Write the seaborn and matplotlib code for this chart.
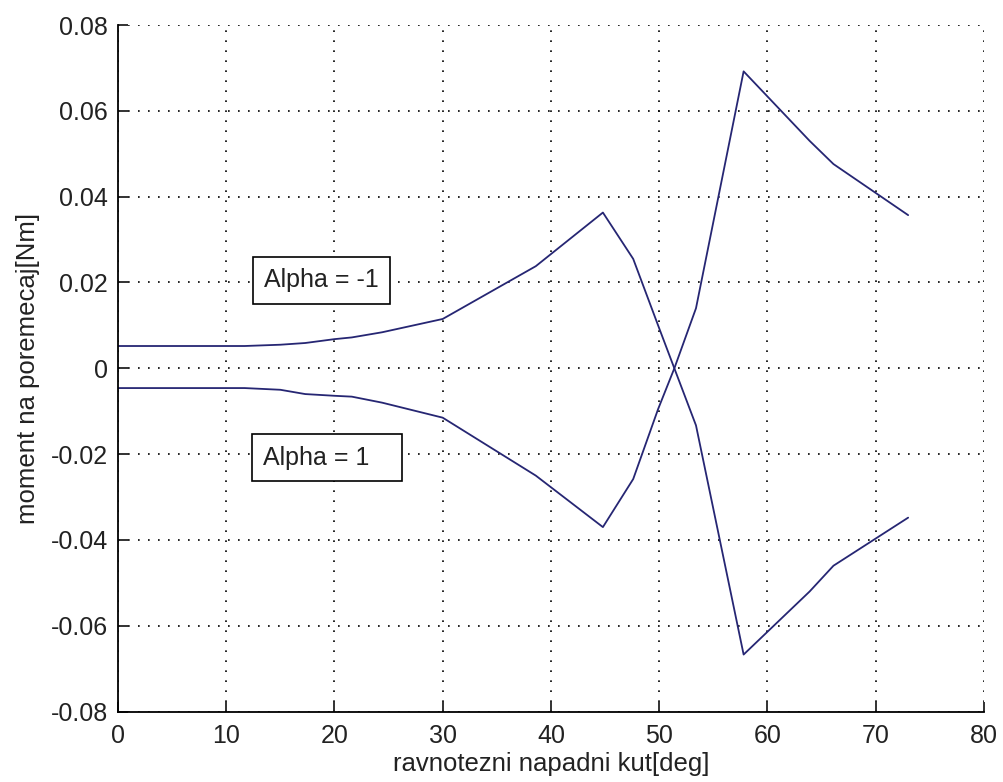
import numpy as np
import pandas as pd
import matplotlib
matplotlib.use("Agg")
import matplotlib.pyplot as plt
import seaborn as sns

# ravnotezni napadni kut [deg]
kut = [0, 11.7, 15, 17.3, 20, 21.6, 24.4, 30, 38.6, 44.8, 47.6, 49.9, 51.4, 53.4, 57.8, 63.9, 66.1, 73.0]

# moment na poremecaj [Nm]
alpha_m1 = [0.0052, 0.0052, 0.0055, 0.0059, 0.0068, 0.0072, 0.0084, 0.0115, 0.0238, 0.0363,
            0.0255, 0.0100, 0.0, -0.0133, -0.0667, -0.0520, -0.0460, -0.0348]
alpha_p1 = [-0.0046, -0.0046, -0.0050, -0.0060, -0.0064, -0.0066, -0.0080, -0.0115, -0.0250, -0.0370,
            -0.0258, -0.0095, 0.0, 0.0140, 0.0692, 0.0530, 0.0476, 0.0357]

df = pd.DataFrame({"kut": kut * 2,
                   "moment": alpha_m1 + alpha_p1,
                   "alpha": ["-1"] * len(kut) + ["1"] * len(kut)})

sns.set_style("white")
plt.rcParams["font.family"] = ["Liberation Sans", "DejaVu Sans"]

fig = plt.figure(figsize=(10.04, 7.82), dpi=100)
ax = fig.add_axes([0.1175, 0.0900, 0.8625, 0.8780])

line_col = "#262673"
sns.lineplot(data=df, x="kut", y="moment", units="alpha", estimator=None, sort=False,
             color=line_col, linewidth=1.3, ax=ax, legend=False)

ax.set_xlim(0, 80)
ax.set_ylim(-0.08, 0.08)
ax.set_xticks(np.arange(0, 81, 10))
ax.set_yticks(np.arange(-0.08, 0.081, 0.02))
ax.set_yticklabels(["-0.08", "-0.06", "-0.04", "-0.02", "0", "0.02", "0.04", "0.06", "0.08"])

# dotted grid like matlab
ax.grid(True, color="black", linestyle=(0, (1, 5)), linewidth=1.2)
for s in ["top", "right"]:
    ax.spines[s].set_visible(False)
for s in ["left", "bottom"]:
    ax.spines[s].set_color("black")
    ax.spines[s].set_linewidth(1.3)

ax.tick_params(direction="in", length=7, width=1.3, labelsize=18, colors="#222222",
               left=True, bottom=True)
ax.tick_params(axis="y", pad=7)
ax.tick_params(axis="x", pad=9)

ax.set_xlabel("ravnotezni napadni kut[deg]", fontsize=18.5, labelpad=3, color="#222222")
ax.set_ylabel("moment na poremecaj[Nm]", fontsize=18.5, labelpad=8, color="#222222")

box = dict(boxstyle="square,pad=0.45", facecolor="white", edgecolor="black", linewidth=1.2)
ax.text(13.5, 0.0205, "Alpha = -1", fontsize=18, ha="left", va="center", bbox=box, color="#222222")
ax.text(13.4, -0.0208, "Alpha = 1   ", fontsize=18, ha="left", va="center", bbox=box, color="#222222")

fig.savefig("out.png", dpi=100)
